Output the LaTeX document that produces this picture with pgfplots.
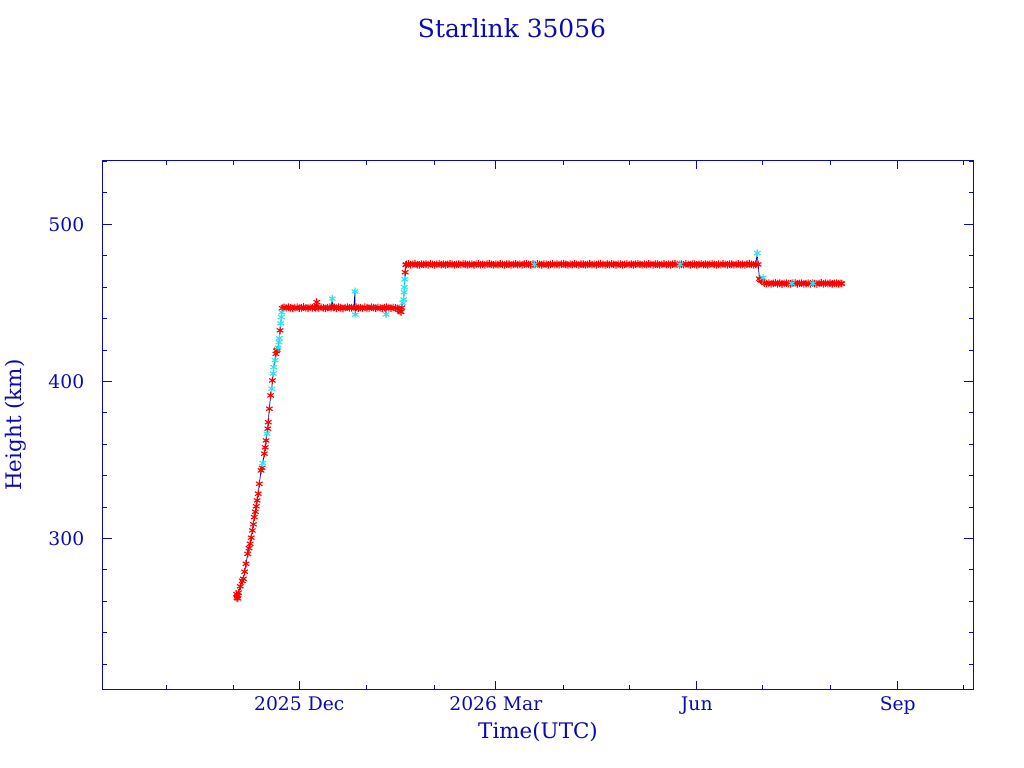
\documentclass[border=0pt]{standalone}
\usepackage{fontspec}
\setmainfont{DejaVu Serif}
\usepackage{pgfplots}
\usepackage{pgfplotstable}
\pgfplotsset{compat=1.18}
\definecolor{pgblue}{RGB}{10,10,180}
\definecolor{pgline}{RGB}{0,0,130}
\definecolor{pgcyan}{RGB}{40,230,240}

% d = days since 2025-10-01, h = height (km), c = 0 red / 1 cyan
\pgfplotstableread{
d h c
32.3 264.5 0
32.5 262.2 0
32.7 263.4 0
32.9 261.8 0
33.2 265.5 0
34.0 269.5 0
34.9 273.0 0
35.4 274.3 0
36.0 278.8 0
36.6 283.9 0
37.4 290.2 0
38.0 293.8 0
38.5 296.6 0
39.0 300.5 0
39.5 305.1 0
40.0 309.0 0
40.4 313.6 0
40.9 317.0 0
41.3 320.5 0
41.7 324.2 0
42.2 328.5 0
42.7 334.8 0
43.5 343.3 0
44.0 345.0 0
44.3 348.0 1
45.0 354.0 0
45.4 358.0 0
45.8 362.4 0
46.2 366.7 1
46.6 369.9 0
46.8 374.0 0
47.3 382.6 0
47.9 391.1 0
48.4 395.3 1
48.7 400.6 0
49.1 405.0 1
49.3 409.1 1
49.9 413.5 1
50.3 417.5 0
50.6 419.5 0
50.9 420.2 0
51.3 421.5 1
51.7 425.0 1
51.9 427.5 1
52.2 432.5 0
52.5 437.0 1
52.8 441.0 1
53.0 444.0 1
53.2 446.6 0
54 447.1 0
55 446.8 0
56 447.3 0
57 446.9 0
58 446.5 0
59 447.0 0
60 447.2 0
61 446.7 0
62 446.9 0
63 447.4 0
64 446.8 0
65 446.6 0
66 447.1 0
67 446.9 0
68 447.3 0
68.5 446.8 0
69.0 450.5 0
69.5 447.0 0
70 446.7 0
71 447.2 0
72 446.9 0
73 446.5 0
74 447.0 0
75 447.3 0
75.6 446.8 0
76.1 452.7 1
76.5 447.0 0
77 447.1 0
78 446.6 0
79 447.2 0
80 446.9 0
81 446.4 0
82 447.0 0
83 447.3 0
84 446.8 0
85 446.9 0
86 447.1 0
86.5 457.3 1
86.6 442.5 1
87 447.2 0
88 446.7 0
89 447.0 0
90 446.5 0
91 447.2 0
92 446.9 0
93 446.6 0
94 447.3 0
95 447.0 0
96 446.7 0
97 447.1 0
98 446.8 0
99 446.5 0
100 447.0 0
100.7 442.7 1
101 447.2 0
102 446.9 0
103 446.6 0
104 447.1 0
105 446.8 0
106 446.4 0
106.6 445.6 0
107.2 444.6 0
107.6 444.2 0
108.0 447.0 0
108.4 450.0 1
108.8 452.2 1
109.0 456.7 1
109.1 460.0 1
109.3 465.0 1
109.5 469.5 0
109.8 474.2 0
110 474.5 0
111 474.8 0
112 474.3 0
113 474.6 0
114 474.9 0
115 474.4 0
116 474.2 0
117 474.7 0
118 474.5 0
119 474.6 0
120 474.3 0
121 474.8 0
122 474.5 0
123 474.2 0
124 474.6 0
125 474.9 0
126 474.4 0
127 474.7 0
128 474.3 0
129 474.5 0
130 474.8 0
131 474.6 0
132 474.2 0
133 474.5 0
134 474.7 0
135 474.4 0
136 474.9 0
137 474.6 0
138 474.3 0
139 474.5 0
140 474.7 0
141 474.2 0
142 474.6 0
143 474.8 0
144 474.4 0
145 474.5 0
146 474.3 0
147 474.7 0
148 474.9 0
149 474.5 0
150 474.2 0
151 474.6 0
152 474.4 0
153 474.8 0
154 474.5 0
155 474.3 0
156 474.7 0
157 474.6 0
158 474.2 0
159 474.5 0
160 474.8 0
161 474.4 0
162 474.6 0
163 474.3 0
164 474.7 0
165 474.9 0
166 474.5 0
167 474.2 0
168 474.6 0
168.6 474.5 1
169 474.4 0
170 474.8 0
171 474.5 0
172 474.3 0
173 474.7 0
174 474.6 0
175 474.2 0
176 474.5 0
177 474.8 0
178 474.4 0
179 474.6 0
180 474.3 0
181 474.7 0
182 474.9 0
183 474.5 0
184 474.2 0
185 474.6 0
186 474.4 0
187 474.8 0
188 474.5 0
189 474.3 0
190 474.7 0
191 474.6 0
192 474.2 0
193 474.5 0
194 474.8 0
195 474.4 0
196 474.6 0
197 474.3 0
198 474.7 0
199 474.9 0
200 474.5 0
201 474.2 0
202 474.6 0
203 474.4 0
204 474.8 0
205 474.5 0
206 474.3 0
207 474.7 0
208 474.6 0
209 474.2 0
210 474.5 0
211 474.8 0
212 474.4 0
213 474.6 0
214 474.3 0
215 474.7 0
216 474.9 0
217 474.5 0
218 474.2 0
219 474.6 0
220 474.4 0
221 474.8 0
222 474.5 0
223 474.3 0
224 474.7 0
225 474.6 0
226 474.2 0
227 474.5 0
228 474.8 0
229 474.4 0
230 474.6 0
231 474.3 0
232 474.7 0
233 474.9 0
234 474.5 0
235 474.2 0
235.3 474.5 1
236 474.6 0
237 474.4 0
238 474.8 0
239 474.5 0
240 474.3 0
241 474.7 0
242 474.6 0
243 474.2 0
244 474.5 0
245 474.8 0
246 474.4 0
247 474.6 0
248 474.3 0
249 474.7 0
250 474.9 0
251 474.5 0
252 474.2 0
253 474.6 0
254 474.4 0
255 474.8 0
256 474.5 0
257 474.3 0
258 474.7 0
259 474.6 0
260 474.2 0
261 474.5 0
262 474.8 0
263 474.4 0
264 474.6 0
265 474.3 0
266 474.7 0
267 474.9 0
268 474.5 0
269 474.2 0
270 474.6 0
270.7 481.7 1
271.1 474.5 0
271.7 465.4 0
272.2 464.6 0
272.7 464.2 0
273.4 466.0 1
274.0 462.6 0
275 462.3 0
276 462.6 0
277 462.1 0
278 462.4 0
279 462.7 0
280 462.2 0
281 462.5 0
282 462.0 0
283 462.4 0
284 462.6 0
285 462.3 0
286 462.1 0
286.5 462.4 1
287 462.5 0
288 462.7 0
289 462.2 0
290 462.4 0
291 462.6 0
292 462.1 0
293 462.3 0
294 462.5 0
295 462.2 0
296 462.6 0
296.2 462.4 1
297 462.3 0
298 462.0 0
299 462.4 0
300 462.7 0
301 462.2 0
302 462.5 0
303 462.3 0
304 462.6 0
305 462.1 0
306 462.4 0
307 462.5 0
308 462.2 0
309 462.4 0
309.4 462.3 0
}\alldata

\begin{document}
\begin{tikzpicture}
\path[use as bounding box] (0,0) rectangle (1024bp,768bp);
\node[anchor=base, text=pgblue, font=\fontsize{25}{28}\selectfont] at (512bp,730.7bp) {Starlink 35056};
\begin{axis}[
  at={(102.7bp,78bp)}, anchor=south west,
  scale only axis, width=870.6bp, height=529.7bp,
  xmin=-29, xmax=369.6, ymin=203.5, ymax=540.8,
  axis line style={pgblue, line width=1bp},
  tick style={pgblue, line width=1bp},
  major tick length=9bp, minor tick length=4.5bp,
  xtick={61,151,243,335},
  xticklabels={2025 Dec,2026 Mar,Jun,Sep},
  minor xtick={0,31,92,123,182,212,273,304,365},
  ytick={300,400,500},
  minor ytick={220,240,260,280,320,340,360,380,420,440,460,480,520,540},
  tick label style={text=pgblue, font=\fontsize{18.8}{21}\selectfont},
  /pgf/number format/assume math mode=true,
  xticklabel style={yshift=-3.5bp},
  yticklabel style={xshift=-15bp},
  xlabel={Time(UTC)}, ylabel={Height (km)},
  label style={text=pgblue, font=\fontsize{21.5}{24}\selectfont},
  xlabel style={at={(axis description cs:0.5,-0.0925)}, anchor=base},
  ylabel style={at={(axis description cs:-0.0996,0.5)}, anchor=center},
]
\addplot[pgline, line width=0.7bp, no marks] table[x=d,y=h]{\alldata};
\addplot[only marks, red, mark=asterisk, mark size=3.8bp, mark options={line width=1.1bp},
  restrict expr to domain={\thisrow{c}}{0:0}] table[x=d,y=h]{\alldata};
\addplot[only marks, pgcyan, mark=asterisk, mark size=3.8bp, mark options={line width=1.1bp},
  restrict expr to domain={\thisrow{c}}{1:1}] table[x=d,y=h]{\alldata};
\end{axis}
\end{tikzpicture}
\end{document}
